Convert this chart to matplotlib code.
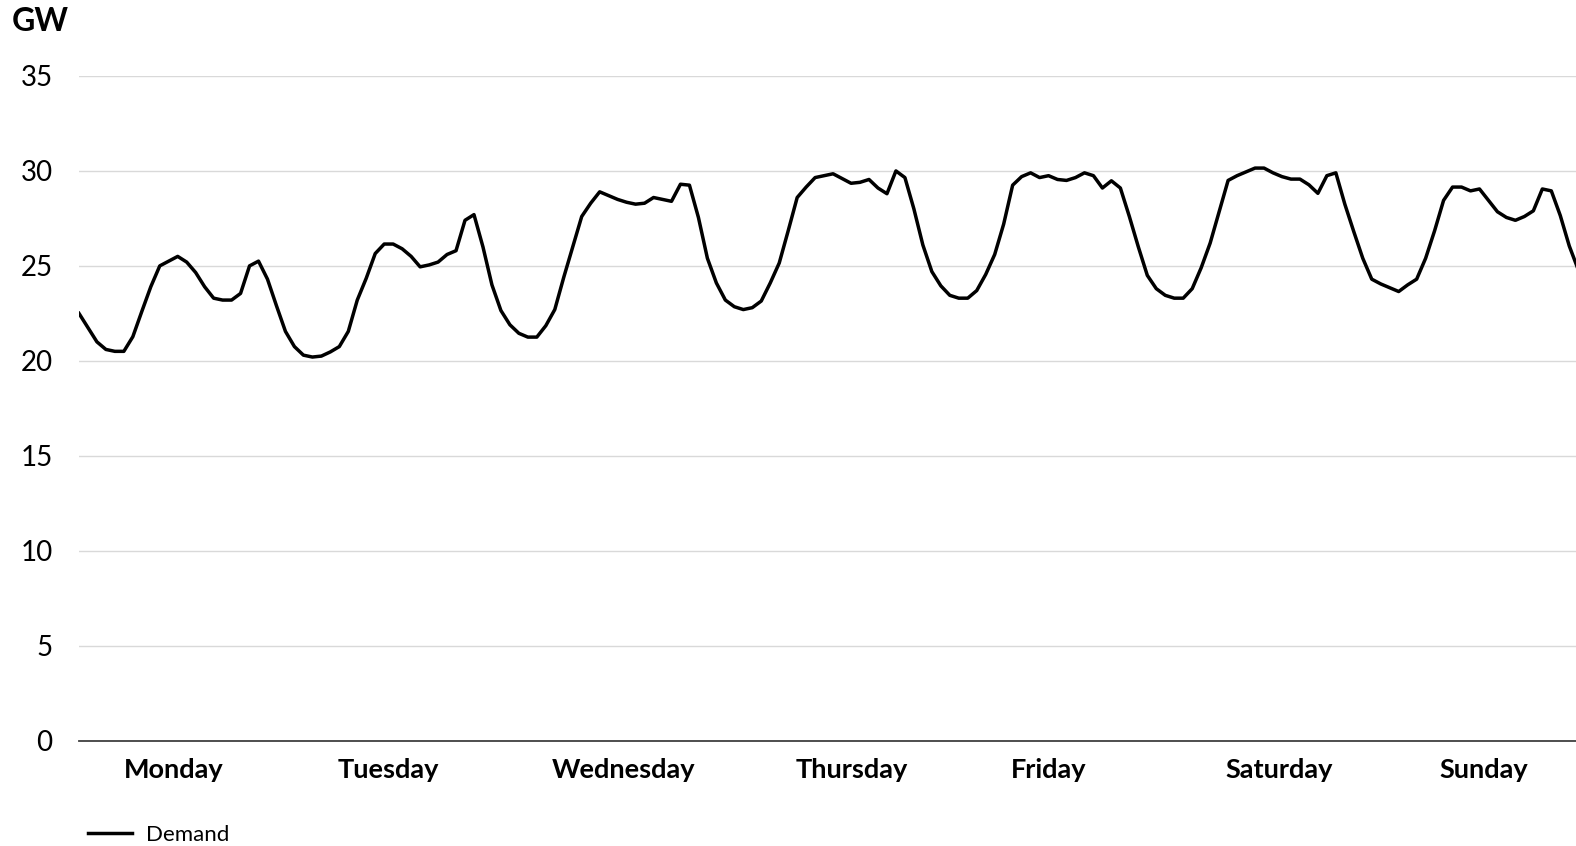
import matplotlib
matplotlib.use('Agg')
import matplotlib.pyplot as plt

# hourly demand for one week (GW)
demand = [22.5, 21.75, 21.0, 20.6, 20.5, 20.5, 21.27, 22.6, 23.9, 25.0,
          25.25, 25.5, 25.2, 24.65, 23.9, 23.3, 23.2, 23.2, 23.55, 25.0,
          25.25, 24.3, 22.9, 21.55, 20.75, 20.3, 20.2, 20.25, 20.47, 20.75,
          21.55, 23.2, 24.35, 25.65, 26.15, 26.15, 25.9, 25.5, 24.95, 25.05,
          25.2, 25.6, 25.8, 27.4, 27.7, 26.0, 24.0, 22.65, 21.9, 21.45,
          21.25, 21.25, 21.85, 22.7, 24.4, 26.0, 27.6, 28.3, 28.9, 28.7,
          28.5, 28.35, 28.25, 28.3, 28.6, 28.5, 28.4, 29.3, 29.25, 27.55,
          25.4, 24.1, 23.2, 22.85, 22.7, 22.8, 23.15, 24.1, 25.15, 26.85,
          28.6, 29.15, 29.65, 29.75, 29.85, 29.6, 29.35, 29.4, 29.55, 29.1,
          28.8, 30.0, 29.65, 28.0, 26.1, 24.7, 23.95, 23.45, 23.3, 23.3,
          23.7, 24.55, 25.6, 27.2, 29.25, 29.7, 29.9, 29.65, 29.75, 29.55,
          29.5, 29.65, 29.9, 29.75, 29.1, 29.48, 29.1, 27.6, 26.0, 24.5,
          23.8, 23.45, 23.3, 23.3, 23.8, 24.9, 26.2, 27.85, 29.5, 29.75,
          29.95, 30.15, 30.15, 29.9, 29.7, 29.57, 29.57, 29.27, 28.82, 29.75,
          29.9, 28.25, 26.8, 25.4, 24.3, 24.05, 23.85, 23.65, 24.0, 24.3,
          25.4, 26.85, 28.45, 29.15, 29.15, 28.95, 29.05, 28.45, 27.85, 27.55,
          27.4, 27.6, 27.9, 29.05, 28.95, 27.65, 26.05, 24.8]

days = ['Monday', 'Tuesday', 'Wednesday', 'Thursday', 'Friday', 'Saturday', 'Sunday']
day_hours = [10.55, 34.45, 60.7, 86.1, 108.0, 133.7, 156.5]
y_ticks = [0, 5, 10, 15, 20, 25, 30, 35]

plt.rcParams['font.family'] = ['Lato', 'DejaVu Sans']

fig = plt.figure(figsize=(15.76, 8.46), dpi=100)
ax = fig.add_axes([0.0501, 0.1245, 0.9499, 0.7857])

hours = list(range(len(demand)))
ax.plot(hours, demand, color='black', linewidth=2.5, label='Demand')

ax.set_xlim(0, 166.75)
ax.set_ylim(0, 35)
ax.set_yticks(y_ticks)
ax.set_xticks(day_hours)
ax.set_xticklabels(days, fontweight='bold')

ax.yaxis.grid(True, color='#d9d9d9', linewidth=1.0)
ax.set_axisbelow(True)
for side in ['top', 'right', 'left']:
    ax.spines[side].set_visible(False)
ax.spines['bottom'].set_color('#404040')
ax.spines['bottom'].set_linewidth(1.3)

ax.tick_params(axis='y', length=0, pad=19, labelsize=20)
ax.tick_params(axis='x', length=0, pad=12.5, labelsize=19.5)

fig.text(11.7 / 1576, 1 - 21.5 / 846, 'GW', fontweight='bold', fontsize=23,
         ha='left', va='center')

fig.legend(loc='center left', bbox_to_anchor=(88 / 1576, 1 - 835 / 846),
           bbox_transform=fig.transFigure, frameon=False, fontsize=16,
           handlelength=2.0, handletextpad=0.6, borderpad=0, borderaxespad=0)

fig.savefig('out.png', dpi=100)
